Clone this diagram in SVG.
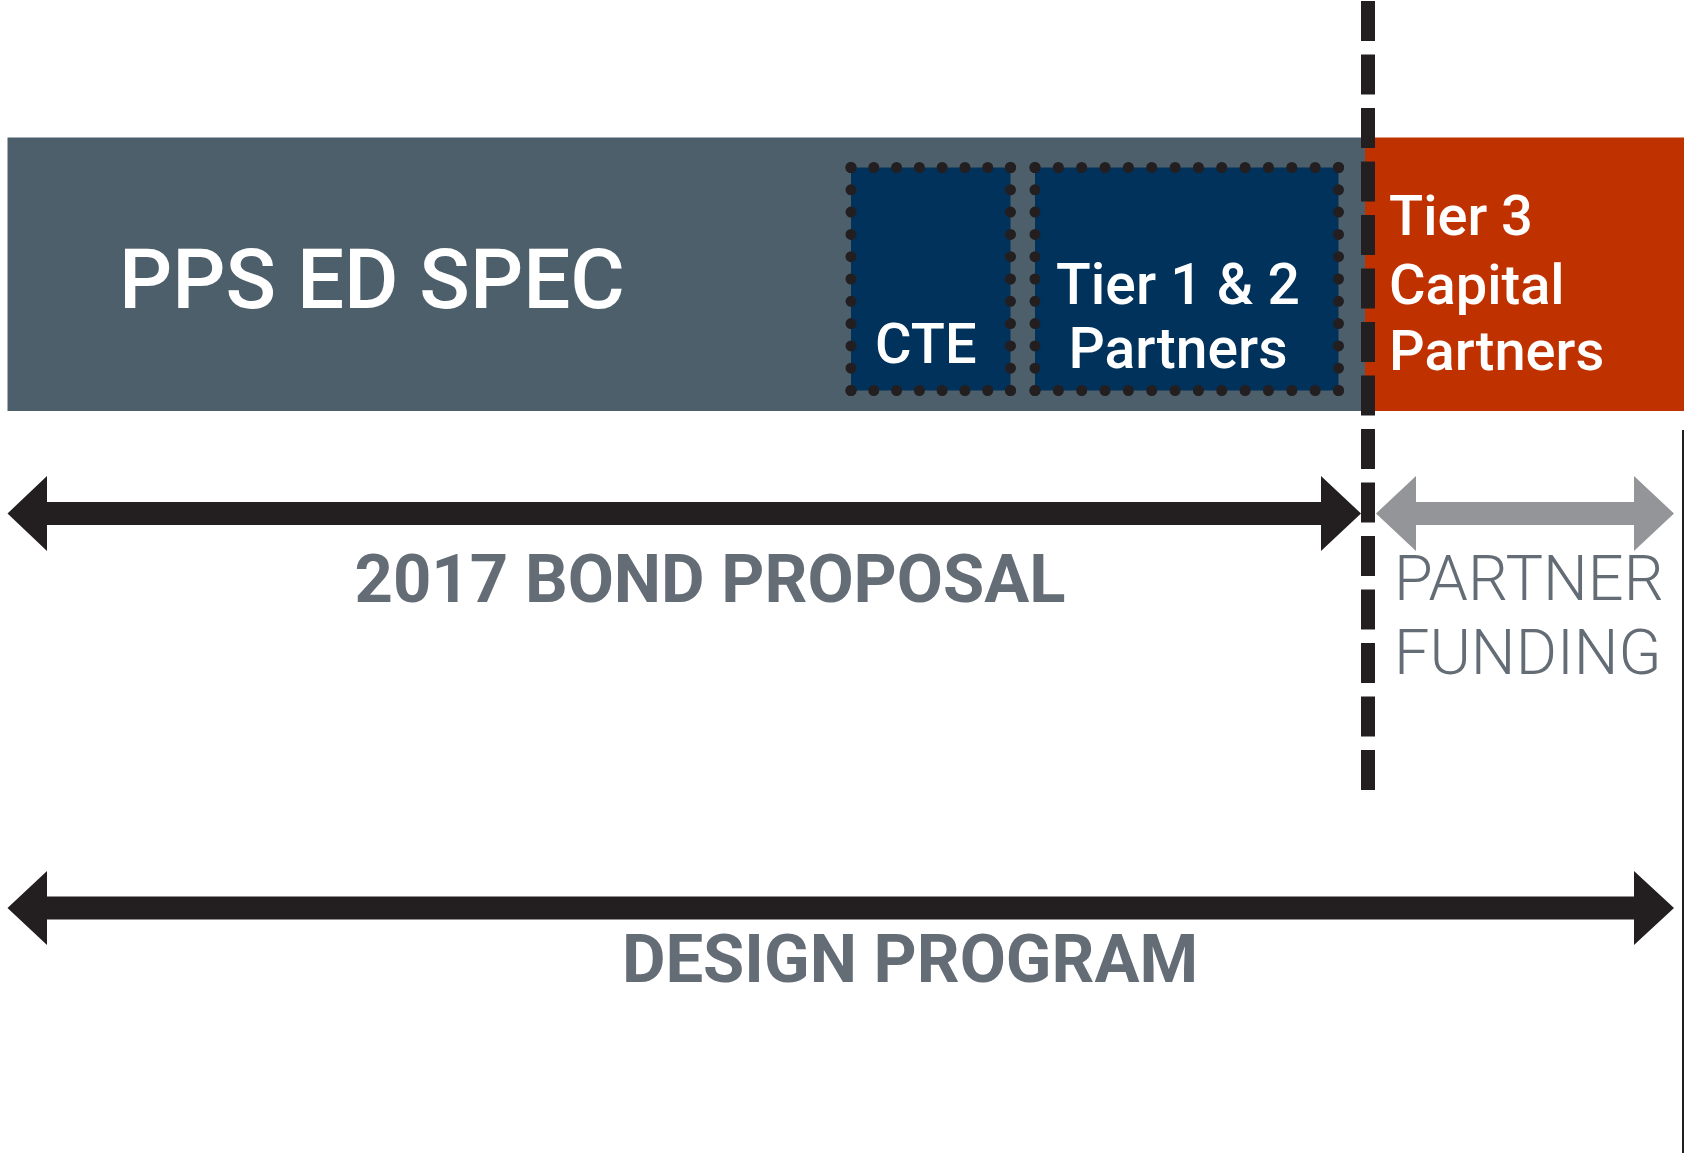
<svg xmlns="http://www.w3.org/2000/svg" width="1684" height="1153" viewBox="0 0 1684 1153">
<style>
.lbl{font-family:Roboto,"Liberation Sans",sans-serif;fill:#ffffff;font-weight:500}
.dim{font-family:Roboto,"Liberation Sans",sans-serif;fill:#646d75;font-weight:700}
.light{font-family:Roboto,"Liberation Sans",sans-serif;fill:#646d75;font-weight:300}
.dots{fill:none;stroke:#231f20;stroke-width:11;stroke-linecap:round}
.navy{fill:#00325c}
.blk{fill:#231f20}
</style>
<rect width="1684" height="1153" fill="#ffffff"/>
<g id="pps-ed-spec">
<rect x="7.5" y="137.5" width="1358" height="273.5" fill="#4c5f6b"/>
<text class="lbl" x="119" y="308" font-size="83.5">PPS ED SPEC</text>
</g>
<g id="tier3">
<rect x="1365" y="137.5" width="319" height="273.5" fill="#c03100"/>
<text class="lbl" x="1389" y="235" font-size="56">Tier 3</text>
<text class="lbl" x="1389" y="304" font-size="56">Capital</text>
<text class="lbl" x="1389" y="370" font-size="56">Partners</text>
</g>
<g id="cte">
<rect class="navy" x="851" y="167.5" width="159.5" height="223"/>
<path class="dots" stroke-dasharray="0 22.786" d="M851 167.5H1011M851 390.5H1011"/>
<path class="dots" stroke-dasharray="0 22.3" d="M851 167.5V391M1010.5 167.5V391"/>
<text class="lbl" x="875" y="363" font-size="56">CTE</text>
</g>
<g id="tier12">
<rect class="navy" x="1035" y="167.5" width="303.5" height="223"/>
<path class="dots" stroke-dasharray="0 23.346" d="M1035 167.5H1339M1035 390.5H1339"/>
<path class="dots" stroke-dasharray="0 22.3" d="M1035 167.5V391M1338.5 167.5V391"/>
<text class="lbl" x="1178" y="304" font-size="57" text-anchor="middle">Tier 1 &amp; 2</text>
<text class="lbl" x="1178" y="368" font-size="57" text-anchor="middle">Partners</text>
</g>
<g id="divider">
<line x1="1368" y1="1" x2="1368" y2="791" stroke="#231f20" stroke-width="14" stroke-dasharray="40 13.5"/>
<line x1="1683" y1="430" x2="1683" y2="1153" stroke="#231f20" stroke-width="2"/>
</g>
<g id="connectors">
<polygon class="blk" points="7.5,513.5 47,476 47,502 1321,502 1321,476 1361,513.5 1321,551 1321,525 47,525 47,551"/>
<polygon fill="#939598" points="1376,513.5 1416,476 1416,502 1634,502 1634,476 1674,513.5 1634,551 1634,525 1416,525 1416,551"/>
<polygon class="blk" points="7.5,908 47,871 47,896.5 1634,896.5 1634,871 1674,908 1634,945 1634,919.5 47,919.5 47,945"/>
</g>
<g id="labels">
<text class="dim" x="710" y="602" font-size="67" text-anchor="middle">2017 BOND PROPOSAL</text>
<text class="light" x="1394" y="600" font-size="63">PARTNER</text>
<text class="light" x="1394" y="674" font-size="63">FUNDING</text>
<text class="dim" x="910" y="982" font-size="67" text-anchor="middle">DESIGN PROGRAM</text>
</g>
</svg>
